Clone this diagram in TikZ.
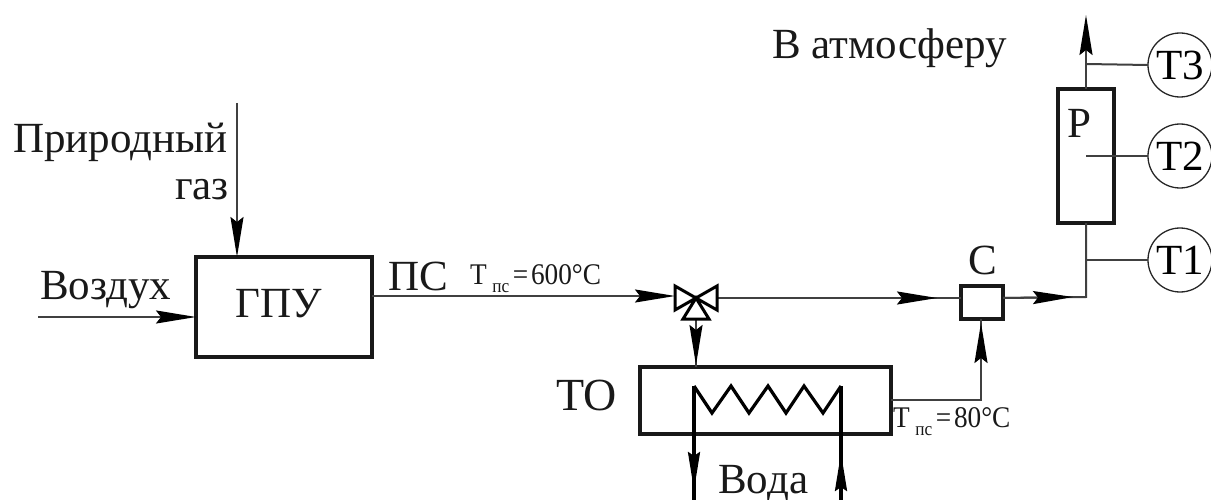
\documentclass[tikz,border=0pt]{standalone}
\usepackage{fontspec}
\usepackage{graphicx}
\setmainfont{Liberation Serif}
\usetikzlibrary{arrows.meta}
\tikzset{
  x=1pt,y=-1pt,
  thick box/.style={draw=black!90,line width=4pt,rectangle,inner sep=0pt,outer sep=0pt,anchor=north west},
  gauge/.style={draw=black!85,line width=1.3pt,circle,inner sep=0pt,outer sep=0pt,minimum size=64pt},
  pipe/.style={draw=black!75,line width=2pt},
  flow/.style={pipe,-{Stealth[black,length=40pt,width=13pt,inset=5pt]}},
  wet/.style={draw=black,line width=3.2pt},
  wetflow/.style={wet,-{Stealth[black,length=38pt,width=12pt,inset=4pt]}},
  lbl/.style={inner sep=0pt,anchor=base west,text=black!90},
  big/.style={font=\fontsize{43}{43}\selectfont},
  sm/.style={font=\fontsize{30}{30}\selectfont},
}
\newcommand{\Tsub}[1]{\scalebox{.91}[1]{Т\raisebox{-8pt}{\hspace{6pt}\fontsize{19}{19}\selectfont пс}\hspace{4pt}=\hspace{3pt}#1°С}}
\begin{document}
\begin{tikzpicture}
\useasboundingbox (0,0) rectangle (1211,500);
% boxes
\node[thick box,minimum width=176pt,minimum height=100pt] (gpu) at (196,257) {};
\node[thick box,minimum width=251pt,minimum height=67pt] (to) at (640,367) {};
\node[thick box,minimum width=42pt,minimum height=33pt] (c) at (961,286) {};
\node[thick box,minimum width=56pt,minimum height=134pt] (r) at (1058,89) {};
\node[gauge,big] (t3) at (1180,65) {\raisebox{-2pt}{Т3}};
\node[gauge,big] (t2) at (1180,156) {\raisebox{-2pt}{Т2}};
\node[gauge,big] (t1) at (1180,260) {\raisebox{-2pt}{Т1}};
% coordinates
\coordinate (gasin) at (237,103);
\coordinate (gastip) at (237,257);
\coordinate (airin) at (38,317);
\coordinate (airtip) at (196,317);
\coordinate (v) at (696,298);
\coordinate (vl) at (675,298);
\coordinate (vr) at (717,298);
\coordinate (vb) at (696,319);
\coordinate (ps) at (372,296);
\coordinate (psb) at (675,296);
\coordinate (m1) at (937,298);
\coordinate (cw) at (961,298);
\coordinate (ce) at (1003,298);
\coordinate (tm) at (1073,297);
\coordinate (jn) at (1086,297);
\coordinate (rb) at (1086,223);
\coordinate (rt) at (1086,89);
\coordinate (out) at (1086,15);
\coordinate (j3) at (1086,64);
\coordinate (j2) at (1086,156);
\coordinate (j1) at (1086,260);
\coordinate (toe) at (891,400);
\coordinate (ck) at (981,400);
\coordinate (cb) at (981,319);
\coordinate (ctip) at (981,323);
\coordinate (tot) at (696,367);
\coordinate (vtip) at (696,365);
\coordinate (wl) at (694,386);
\coordinate (wr) at (841,386);
\coordinate (wld) at (694,490);
\coordinate (wle) at (694,500);
\coordinate (wrd) at (841,453);
\coordinate (wre) at (841,500);
% connectors
\draw[flow] (gasin) -- (gastip);
\draw[flow] (airin) -- (airtip);
\draw[flow] (ps) -- (psb);
\draw[pipe] (vr) -- (cw);
\draw[flow] (vr) -- (m1);
\draw[pipe] (ce) -- (jn) -- (rb);
\draw[flow] (ce) -- (tm);
\draw[flow] (rt) -- (out);
\draw[pipe] (j3) -- (t3.west);
\draw[pipe] (j2) -- (t2.west);
\draw[pipe] (j1) -- (t1.west);
\draw[pipe] (vb) -- (tot);
\draw[flow] (vb) -- (vtip);
\draw[pipe] (toe) -- (ck) -- (cb);
\draw[flow] (ck) -- (ctip);
% valve
\draw[black,line width=3pt,line join=miter]
  (v) -- (675,286) -- (675,310) -- cycle
  (v) -- (717,286) -- (717,310) -- cycle
  (v) -- (683,319) -- (709,319) -- cycle;
% coil
\draw[wet,line join=miter] (wr) -- (823,413) -- (804,386) -- (786,413) -- (768,386) -- (749,413) -- (731,386) -- (712,413) -- (wl);
\draw[wet] (wl) -- (wle);
\draw[wetflow] (wl) -- (wld);
\draw[wet] (wr) -- (wre);
\draw[wetflow] (wre) -- (wrd);
% labels
\node[lbl,big] (lgas) at (13,153) {Природный};
\node[lbl,big,anchor=base east] (lgas2) at (229,200) {газ};
\node[lbl,big] (lair) at (40,299) {Воздух};
\node[lbl,big] (lgpu) at (235,317) {ГПУ};
\node[lbl,big] (lps) at (388,290) {ПС};
\node[lbl,sm] (lt1) at (470,284) {\Tsub{600}};
\node[lbl,font=\fontsize{46}{46}\selectfont] (lto) at (556,410) {ТО};
\node[lbl,sm] (lt2) at (893,427) {\Tsub{80}};
\node[lbl,big] (lw) at (718,493) {Вода};
\node[lbl,big] (lc) at (968,274) {С};
\node[lbl,big] (lr) at (1067,138) {Р};
\node[lbl,big] (lout) at (772,59) {В атмосферу};
\end{tikzpicture}
\end{document}
